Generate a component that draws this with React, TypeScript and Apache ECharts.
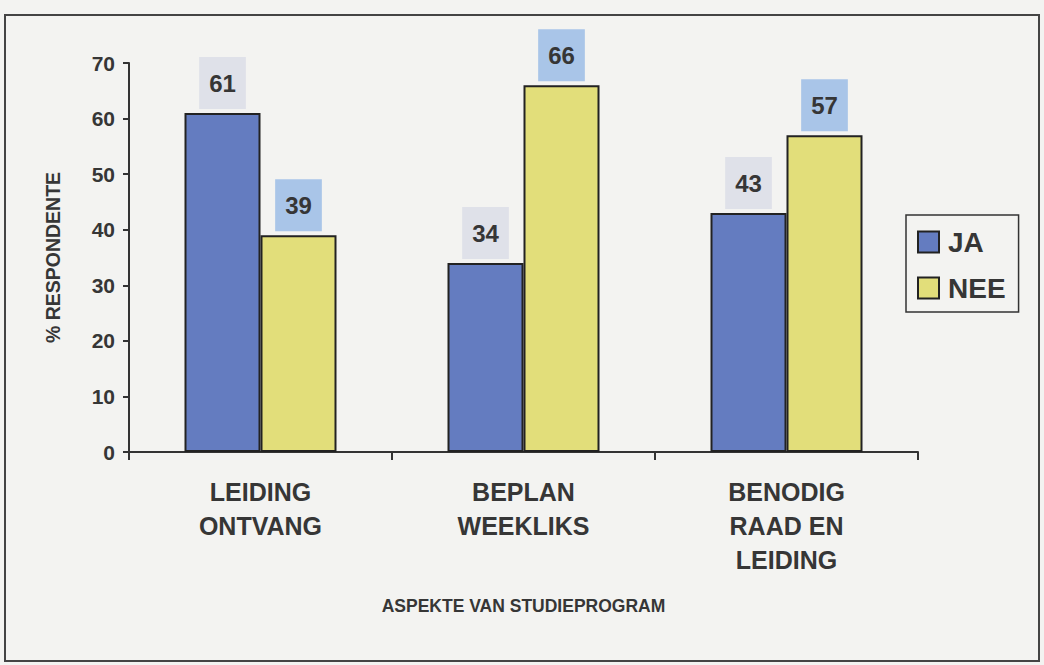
import React, { useEffect, useRef } from "react";
import * as echarts from "echarts";

const categories = ["LEIDING\nONTVANG", "BEPLAN\nWEEKLIKS", "BENODIG\nRAAD EN\nLEIDING"];
const jaValues = [61, 34, 43];
const neeValues = [39, 66, 57];
const yTicks = { min: 0, max: 70, interval: 10 };

const FONT = "'Liberation Sans', Arial, sans-serif";
const TEXT = "#363636";

export default function App() {
  const ref = useRef<HTMLDivElement>(null);
  useEffect(() => {
    if (!ref.current) return;
    const chart = echarts.init(ref.current, null, { renderer: "svg" });
    const labelBase = {
      show: true,
      position: "top",
      distance: 4,
      fontFamily: FONT,
      fontWeight: "bold",
      fontSize: 24,
      lineHeight: 24,
      color: TEXT,
      padding: [14, 10, 14, 10],
    };
    chart.setOption({
      animation: false,
      backgroundColor: "#f3f3f1",
      textStyle: { fontFamily: FONT },
      graphic: [
        {
          type: "rect",
          shape: { x: 5, y: 15, width: 1034, height: 646 },
          style: { fill: "none", stroke: "#444", lineWidth: 2 },
          silent: true,
        },
      ],
      legend: {
        show: true,
        left: 906,
        top: 215,
        orient: "vertical",
        icon: "rect",
        itemWidth: 21,
        itemHeight: 21,
        itemGap: 18,
        padding: [13, 13, 10, 11],
        borderColor: "#333",
        borderWidth: 1.5,
        textStyle: {
          fontFamily: FONT,
          fontWeight: "bold",
          fontSize: 28,
          color: TEXT,
          padding: [0, 0, 0, 4],
        },
        itemStyle: { borderColor: "#222", borderWidth: 2 },
        data: ["JA", "NEE"],
      },
      grid: { left: 129, right: 126, top: 63, bottom: 213, containLabel: false },
      xAxis: {
        type: "category",
        data: categories,
        name: "ASPEKTE VAN STUDIEPROGRAM",
        nameLocation: "middle",
        nameGap: 145,
        nameTextStyle: { fontFamily: FONT, fontWeight: "bold", fontSize: 17.5, color: TEXT },
        axisLine: { lineStyle: { color: "#333", width: 2 } },
        axisTick: { show: true, alignWithLabel: false, length: 8, lineStyle: { color: "#333", width: 2 } },
        axisLabel: {
          fontFamily: FONT,
          fontWeight: "bold",
          fontSize: 25,
          lineHeight: 34,
          color: TEXT,
          margin: 23,
          interval: 0,
        },
      },
      yAxis: {
        type: "value",
        min: yTicks.min,
        max: yTicks.max,
        interval: yTicks.interval,
        name: "% RESPONDENTE",
        nameLocation: "middle",
        nameGap: 66,
        nameTextStyle: { fontFamily: FONT, fontWeight: "bold", fontSize: 19.5, color: TEXT },
        axisLine: { show: true, lineStyle: { color: "#333", width: 2 } },
        axisTick: { show: true, length: 6, lineStyle: { color: "#333", width: 2 } },
        splitLine: { show: false },
        axisLabel: { fontFamily: FONT, fontWeight: "bold", fontSize: 21, color: TEXT, margin: 14 },
      },
      series: [
        {
          name: "JA",
          type: "bar",
          data: jaValues,
          barWidth: 76,
          barGap: "0%",
          itemStyle: { color: "#647cc0", borderColor: "#222", borderWidth: 2 },
          label: { ...labelBase, backgroundColor: "#dfe1e9" },
        },
        {
          name: "NEE",
          type: "bar",
          data: neeValues,
          barWidth: 76,
          barGap: "0%",
          itemStyle: { color: "#e2de7a", borderColor: "#222", borderWidth: 2 },
          label: { ...labelBase, backgroundColor: "#a9c5e8" },
        },
      ],
    });
    return () => chart.dispose();
  }, []);
  return (
    <div
      ref={ref}
      style={{ position: "absolute", left: 0, top: 0, width: 1044, height: 665 }}
    />
  );
}
